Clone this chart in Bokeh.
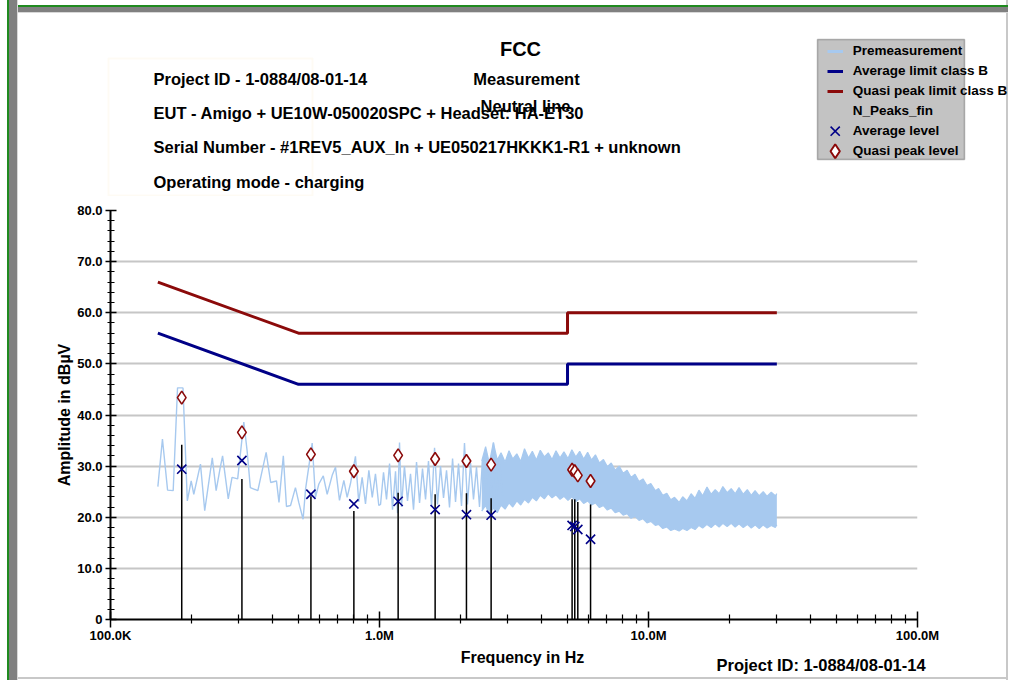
import numpy as np
from bokeh.plotting import figure
from bokeh.layouts import column, row
from bokeh.models import (Range1d, FixedTicker, CustomJSTickFormatter, Label,
                          BoxAnnotation, Legend, LegendItem)
from bokeh.embed import file_html
from bokeh.resources import INLINE

FONT = "Liberation Sans"

# ---------------- data ----------------
# premeasurement trace (frequency in MHz, level in dBuV), sparse part
pre_freq_mhz = [0.150, 0.156, 0.163, 0.171, 0.1775, 0.186, 0.193, 0.1995, 0.204, 0.216,
                0.224, 0.239, 0.247, 0.256, 0.261, 0.274, 0.283, 0.297, 0.313, 0.322,
                0.331, 0.353, 0.379, 0.394, 0.414, 0.423, 0.439, 0.451, 0.467, 0.487,
                0.501, 0.520, 0.531, 0.562, 0.578, 0.595, 0.618, 0.639, 0.667, 0.686,
                0.710, 0.737, 0.758, 0.780, 0.814, 0.837, 0.862, 0.887, 0.913, 0.940,
                0.966, 0.994, 1.009, 1.035, 1.062, 1.090, 1.118, 1.147, 1.167, 1.187,
                1.207, 1.238, 1.271, 1.304, 1.338, 1.373, 1.409, 1.445, 1.483, 1.521,
                1.561, 1.602, 1.643, 1.686, 1.730, 1.775, 1.821, 1.869, 1.917, 1.967,
                2.018, 2.070, 2.124, 2.180, 2.236, 2.294, 2.354, 2.415, 2.478, 2.542,
                2.609, 2.653, 2.722, 2.794, 2.866]
pre_level = [26.0, 35.3, 25.3, 25.2, 45.3, 45.3, 23.2, 27.1, 24.5, 30.4,
             21.3, 31.6, 25.2, 29.8, 32.0, 23.6, 27.8, 27.5, 38.6, 33.0,
             25.8, 25.2, 32.7, 26.8, 27.1, 22.9, 32.0, 22.1, 22.3, 25.8,
             22.9, 19.6, 25.5, 34.5, 23.9, 26.5, 28.1, 24.5, 28.2, 29.8,
             23.3, 27.2, 23.9, 26.6, 31.9, 23.0, 27.8, 22.6, 29.2, 23.9,
             28.5, 22.3, 22.5, 28.8, 23.5, 30.5, 21.5, 29.0, 20.8, 34.6,
             22.0, 30.0, 23.2, 28.5, 21.5, 30.8, 22.8, 29.5, 23.5, 31.0,
             22.0, 33.6, 22.5, 30.0, 23.8, 29.2, 21.9, 31.5, 23.0, 30.5,
             22.2, 34.5, 22.5, 30.6, 23.5, 29.8, 22.0, 31.2, 24.0, 30.2,
             22.8, 34.6, 23.5, 31.0, 24.2]

# premeasurement, dense part (upper / lower envelope of the trace)
band_freq_mhz = [2.40, 2.48, 2.56, 2.65, 2.74, 2.83, 2.93, 3.03, 3.13, 3.24,
                 3.35, 3.46, 3.58, 3.70, 3.83, 3.96, 4.10, 4.24, 4.38, 4.53,
                 4.69, 4.85, 5.02, 5.19, 5.37, 5.55, 5.74, 5.94, 6.14, 6.35,
                 6.57, 6.80, 7.03, 7.27, 7.52, 7.78, 8.05, 8.33, 8.61, 8.91,
                 9.22, 9.54, 9.87, 10.2, 10.6, 10.9, 11.3, 11.7, 12.1, 12.5,
                 13.0, 13.4, 13.9, 14.4, 14.9, 15.4, 15.9, 16.5, 17.1, 17.7,
                 18.3, 18.9, 19.6, 20.3, 21.0, 21.7, 22.5, 23.3, 24.1, 24.9,
                 25.8, 26.7, 27.6, 28.6, 29.6, 30.0]
band_upper = [31.0, 33.8, 30.6, 34.6, 31.2, 32.6, 30.8, 33.0, 31.4, 32.4,
              30.9, 33.4, 31.6, 32.9, 31.2, 33.1, 31.8, 32.6, 31.3, 33.0,
              31.6, 32.8, 31.5, 33.2, 31.8, 32.9, 31.4, 32.7, 31.2, 32.2,
              30.6, 31.3, 29.9, 30.6, 29.2, 30.0, 28.6, 29.2, 27.8, 28.4,
              27.0, 27.5, 26.2, 26.6, 25.2, 25.6, 24.3, 24.7, 23.4, 23.9,
              22.9, 24.0, 23.2, 24.6, 23.7, 25.3, 24.2, 25.9, 24.5, 25.4,
              24.6, 26.0, 24.8, 25.6, 24.6, 25.8, 24.5, 25.4, 24.3, 25.2,
              24.2, 25.0, 24.1, 24.9, 24.2, 24.6]
band_lower = [21.2, 22.3, 20.6, 21.8, 20.9, 22.4, 21.6, 22.8, 22.0, 23.2,
              22.4, 23.5, 22.8, 23.9, 23.2, 24.3, 23.6, 24.6, 23.8, 24.4,
              23.5, 24.1, 23.3, 24.0, 23.1, 23.6, 22.7, 23.2, 22.4, 22.8,
              21.9, 22.3, 21.4, 21.8, 20.9, 21.2, 20.4, 20.7, 19.8, 20.2,
              19.4, 19.7, 18.9, 19.2, 18.4, 18.6, 17.8, 18.1, 17.4, 17.7,
              17.3, 17.8, 17.4, 18.0, 17.6, 18.4, 17.9, 18.6, 18.0, 18.7,
              18.1, 18.8, 18.2, 18.8, 18.1, 18.7, 18.0, 18.6, 17.9, 18.5,
              17.8, 18.5, 17.9, 18.4, 18.0, 18.5]

avg_limit_freq = [0.15, 0.5, 5.0, 5.0, 30.0]
avg_limit_level = [56, 46, 46, 50, 50]
qp_limit_freq = [0.15, 0.5, 5.0, 5.0, 30.0]
qp_limit_level = [66, 56, 56, 60, 60]

peak_freq = [0.184, 0.308, 0.556, 0.803, 1.173, 1.61, 2.105, 2.60, 5.20, 5.32, 5.46, 6.09]
peak_pre = [34.2, 27.5, 24.1, 21.2, 24.8, 24.5, 24.7, 23.7, 23.5, 23.5, 23.0, 22.5]
avg_level = [29.4, 31.1, 24.5, 22.6, 23.1, 21.5, 20.5, 20.4, 18.4, 18.2, 17.6, 15.7]
qp_level = [43.4, 36.6, 32.3, 29.0, 32.1, 31.4, 31.0, 30.3, 29.3, 29.0, 28.2, 27.1]
peak_base = [0] * len(peak_freq)

x_major = [0.1, 1, 10, 100]
x_minor = [0.2, 0.3, 0.4, 0.5, 0.6, 0.7, 0.8, 0.9,
           2, 3, 4, 5, 6, 7, 8, 9,
           20, 30, 40, 50, 60, 70, 80, 90]
y_major = [0, 10, 20, 30, 40, 50, 60, 70, 80]
y_minor = [2, 4, 6, 8, 12, 14, 16, 18, 22, 24, 26, 28, 32, 34, 36, 38,
           42, 44, 46, 48, 52, 54, 56, 58, 62, 64, 66, 68, 72, 74, 76, 78]

header_lines = ["Project ID - 1-0884/08-01-14",
                "EUT - Amigo + UE10W-050020SPC + Headset: HA-ET30",
                "Serial Number - #1REV5_AUX_In + UE050217HKKK1-R1 + unknown",
                "Operating mode - charging"]
title_lines = ["FCC", "Measurement", "Neutral line"]
legend_labels = ["Premeasurement", "Average limit class B", "Quasi peak limit class B",
                 "N_Peaks_fin", "Average level", "Quasi peak level"]
x_title = "Frequency in Hz"
y_title = "Amplitude in dB\u00b5V"
footer_text = "Project ID: 1-0884/08-01-14"

# ---------------- colours ----------------
C_PRE = "#a7c9ef"
C_AVG = "#000087"
C_QP = "#8b0a0a"

W = 1008
H_HDR, H_MAIN, H_FTR = 196, 453, 31

FRAME_LEFT = ("linear-gradient(to right, white 0px, white 7.5px, #1f8a1f 7.5px, #1f8a1f 9px, "
              "#808080 9px, #808080 17px, #d8d8d8 17px, #d8d8d8 18px, transparent 18px)")
FRAME_RIGHT = "linear-gradient(to left, #c8c8c8 0px, #c8c8c8 1.5px, transparent 1.5px)"


def bare_fig(height, y0, y1, extra_bg):
    f = figure(width=W, height=height, x_range=Range1d(0, W), y_range=Range1d(y0, y1),
               output_backend="svg", toolbar_location=None,
               x_axis_location=None, y_axis_location=None, min_border=0)
    f.min_border_left = f.min_border_right = f.min_border_top = f.min_border_bottom = 0
    f.grid.visible = False
    f.outline_line_color = None
    f.background_fill_alpha = 0
    f.border_fill_alpha = 0
    f.styles = {"background": ", ".join([FRAME_LEFT] + extra_bg + [FRAME_RIGHT, "white"])}
    return f


def txt(f, x, y, text, size, align="left"):
    f.add_layout(Label(x=x, y=y, text=text, text_font=FONT, text_font_style="bold",
                       text_font_size=size, text_align=align, text_baseline="middle",
                       text_color="black"))


# ---------------- header (page coordinates) ----------------
hdr = bare_fig(H_HDR, H_HDR, 0, [
    "linear-gradient(to bottom, transparent 0px, transparent 5.5px, #1f8a1f 5.5px, #1f8a1f 7px, "
    "#808080 7px, #808080 12px, #d8d8d8 12px, #d8d8d8 13px, transparent 13px)"])

hdr.add_layout(BoxAnnotation(left=108, right=312, top=58, bottom=195, fill_alpha=0,
                             line_color="#fcf1dc", line_width=2))
hdr.add_layout(BoxAnnotation(left=817, right=964, top=39, bottom=159,
                             fill_color="#c3c3c3", fill_alpha=1,
                             line_color="#222222", line_width=1.5, level="underlay"))

for t, yy in zip(header_lines, [78, 112, 146, 181]):
    txt(hdr, 153, yy, t, "16.5px")
txt(hdr, 520, 48, title_lines[0], "20px", align="center")
txt(hdr, 526, 78, title_lines[1], "16.5px", align="center")
txt(hdr, 525, 105, title_lines[2], "16.5px", align="center")

# legend sample renderers (one point each, placed outside the visible header area)
OUT_X, OUT_Y = [-500], [-500]
l_pre = hdr.line(OUT_X, OUT_Y, line_color=C_PRE, line_width=3)
l_avg = hdr.line(OUT_X, OUT_Y, line_color=C_AVG, line_width=3)
l_qp = hdr.line(OUT_X, OUT_Y, line_color=C_QP, line_width=3)
l_blank = hdr.line(OUT_X, OUT_Y, line_alpha=0)

LEG_LEFT, LEG_BOTTOM, LEG_PAD, ROW_H, GLYPH_W = 822.7, 164.7, 4, 20, 16
legend = Legend(items=[LegendItem(label=lab, renderers=[r]) for lab, r in zip(
    legend_labels, [l_pre, l_avg, l_qp, l_blank, l_blank, l_blank])],
    location=(LEG_LEFT, H_HDR - LEG_BOTTOM))
legend.background_fill_alpha = 0
legend.border_line_alpha = 0
legend.label_text_font = FONT
legend.label_text_font_style = "bold"
legend.label_text_font_size = "13.5px"
legend.label_text_color = "black"
legend.glyph_width = GLYPH_W
legend.glyph_height = ROW_H
legend.label_height = ROW_H
legend.spacing = 0
legend.padding = LEG_PAD
legend.margin = 0
legend.label_standoff = 10
hdr.add_layout(legend, "center")

# full-size marker samples for the two marker entries of the legend
sample_x = LEG_LEFT + LEG_PAD + GLYPH_W / 2
row_top = LEG_BOTTOM - LEG_PAD - 6 * ROW_H
hdr.scatter([sample_x], [row_top + 4.5 * ROW_H], marker="x", size=13,
            line_color=C_AVG, line_width=1.6)
hdr.scatter([sample_x], [row_top + 5.5 * ROW_H], marker="diamond", size=14,
            line_color=C_QP, fill_color="white", line_width=2)

# ---------------- main chart ----------------
p = figure(width=W, height=H_MAIN, x_axis_type="log",
           x_range=Range1d(0.1, 100), y_range=Range1d(0, 80),
           output_backend="svg", toolbar_location=None,
           min_border_left=110, min_border_right=91,
           min_border_top=14, min_border_bottom=30)
p.outline_line_color = None
p.background_fill_color = "white"
p.border_fill_alpha = 0
p.styles = {"background": ", ".join([FRAME_LEFT, FRAME_RIGHT, "white"])}

p.xgrid.visible = False
p.ygrid.grid_line_color = "#c6c6c6"
p.ygrid.grid_line_width = 2

p.xaxis.ticker = FixedTicker(ticks=x_major, minor_ticks=x_minor)
p.yaxis.ticker = FixedTicker(ticks=y_major, minor_ticks=y_minor)
p.ygrid.ticker = FixedTicker(ticks=y_major)
p.xaxis.formatter = CustomJSTickFormatter(code="""
if (tick < 1) { return (tick*1000).toFixed(1) + "K"; }
return tick.toFixed(1) + "M";
""")
p.yaxis.formatter = CustomJSTickFormatter(code="""
if (tick == 0) { return "0"; }
return tick.toFixed(1);
""")
for ax in (p.xaxis, p.yaxis):
    ax.axis_line_width = 2
    ax.axis_line_color = "black"
    ax.major_tick_line_color = "black"
    ax.minor_tick_line_color = "black"
    ax.major_tick_line_width = 1.5
    ax.minor_tick_line_width = 1.2
    ax.major_label_text_font = FONT
    ax.major_label_text_font_style = "bold"
    ax.major_label_text_font_size = "13px"
    ax.major_label_text_color = "black"
p.xaxis.major_tick_in = 8
p.xaxis.major_tick_out = 8
p.xaxis.minor_tick_in = 5
p.xaxis.minor_tick_out = 4
p.xaxis.major_label_standoff = 0
p.yaxis.major_tick_in = 6
p.yaxis.major_tick_out = 5
p.yaxis.minor_tick_in = 4
p.yaxis.minor_tick_out = 3
p.yaxis.major_label_standoff = 3
p.yaxis.axis_label = y_title
p.yaxis.axis_label_text_font = FONT
p.yaxis.axis_label_text_font_style = "bold"
p.yaxis.axis_label_text_font_size = "16px"
p.yaxis.axis_label_text_color = "black"
p.yaxis.axis_label_standoff = 1

# premeasurement
p.varea(x=band_freq_mhz, y1=band_lower, y2=band_upper, fill_color=C_PRE)
p.line(band_freq_mhz, band_upper, line_color=C_PRE, line_width=1.2)
p.line(band_freq_mhz, band_lower, line_color=C_PRE, line_width=1.2)
p.line(pre_freq_mhz, pre_level, line_color=C_PRE, line_width=1.4)

# limits
p.line(avg_limit_freq, avg_limit_level, line_color=C_AVG, line_width=3)
p.line(qp_limit_freq, qp_limit_level, line_color=C_QP, line_width=3)

# peaks
p.segment(x0=peak_freq, y0=peak_base, x1=peak_freq, y1=peak_pre,
          line_color="black", line_width=1.5)
p.scatter(peak_freq, avg_level, marker="x", size=13, line_color=C_AVG, line_width=1.6)
p.scatter(peak_freq, qp_level, marker="diamond", size=13, line_color=C_QP,
          fill_color="white", line_width=1.6)

# ---------------- footer (page coordinates) ----------------
ftr = bare_fig(H_FTR, 680, 649, [
    "linear-gradient(to top, transparent 0px, transparent 1.5px, #c8c8c8 1.5px, #c8c8c8 3px, transparent 3px)"])
txt(ftr, 522, 657, x_title, "16px", align="center")
txt(ftr, 716, 664, footer_text, "16.5px")

layout = column(row(hdr), row(p), row(ftr), spacing=0)
open("out.html", "w").write(file_html(layout, INLINE))
